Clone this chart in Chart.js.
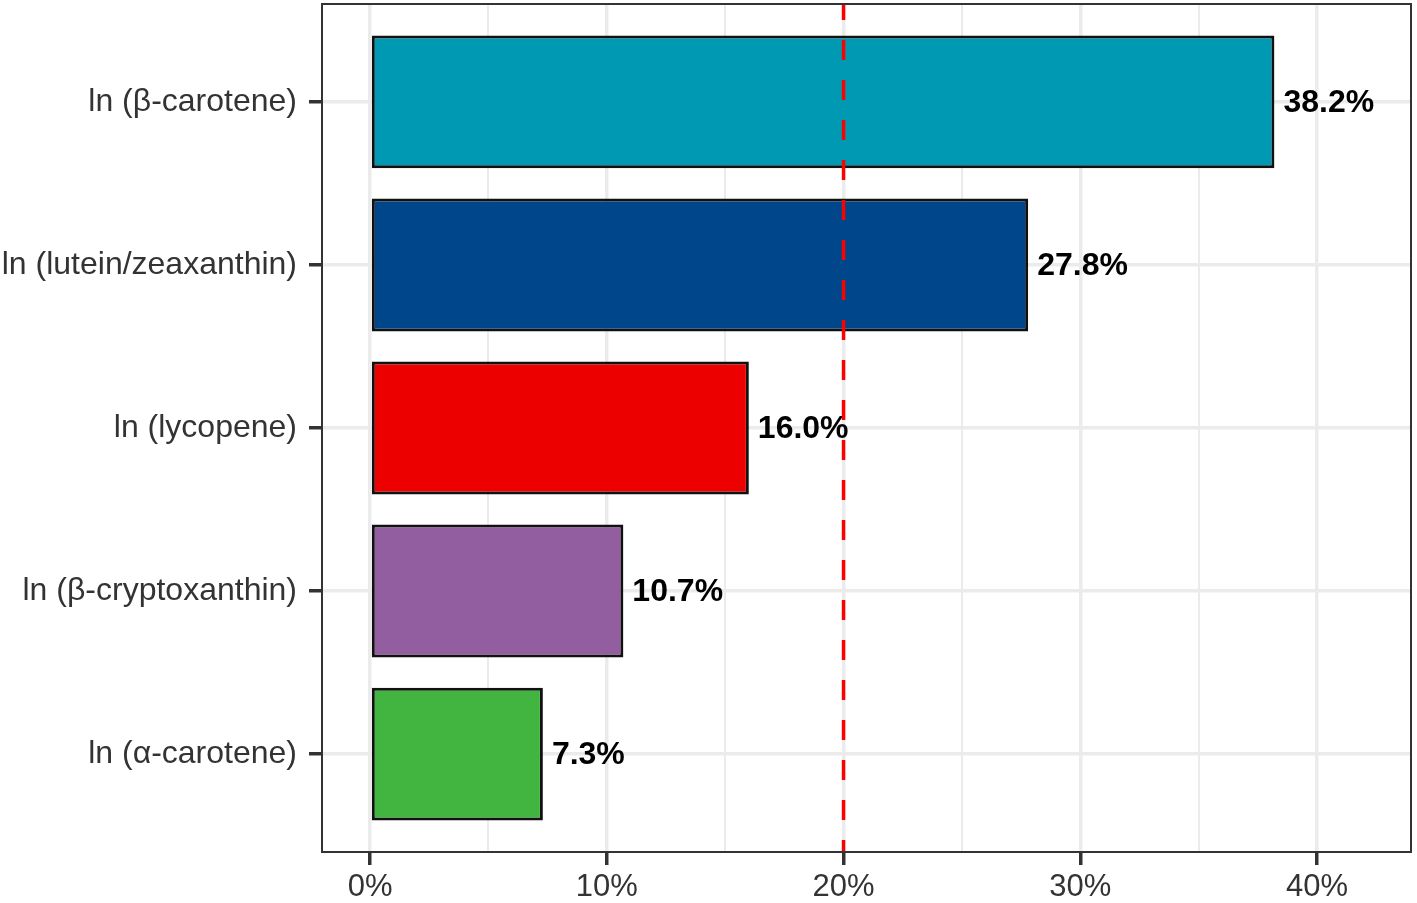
<!DOCTYPE html>
<html>
<head>
<meta charset="utf-8">
<script src="https://cdn.jsdelivr.net/npm/chart.js@4.4.1/dist/chart.umd.min.js"></script>
<style>
  html, body { margin: 0; padding: 0; background: #fff; }
  #wrap { width: 1417px; height: 903px; position: relative; }
</style>
</head>
<body>
<div id="wrap"><canvas id="carotenoidChart"></canvas></div>
<script>
// data
const categories = ['ln (β-carotene)', 'ln (lutein/zeaxanthin)', 'ln (lycopene)', 'ln (β-cryptoxanthin)', 'ln (α-carotene)'];
const shares = [38.2, 27.8, 16.0, 10.7, 7.3];
const barColors = ['#0099B4', '#00468B', '#ED0000', '#925E9F', '#42B540'];
const xTicks = [0, 5, 10, 15, 20, 25, 30, 35, 40];
const refLine = 20;

const FONT = '"Liberation Sans", Arial, sans-serif';

// value text at the end of each bar
const valueLabels = {
    id: 'valueLabels',
    afterDatasetsDraw(chart) {
        const ctx = chart.ctx;
        const meta = chart.getDatasetMeta(0);
        ctx.save();
        ctx.font = 'bold 32px ' + FONT;
        ctx.fillStyle = '#000';
        ctx.textAlign = 'left';
        ctx.textBaseline = 'middle';
        meta.data.forEach((bar, i) => {
            ctx.fillText(shares[i].toFixed(1) + '%', bar.x + 9, bar.y + 1);
        });
        ctx.restore();
    }
};

// red dashed reference line
const refLinePlugin = {
    id: 'refLine',
    afterDatasetsDraw(chart) {
        const ctx = chart.ctx;
        const area = chart.chartArea;
        const x = chart.scales.x.getPixelForValue(refLine);
        ctx.save();
        ctx.strokeStyle = '#FF0000';
        ctx.lineWidth = 3.5;
        ctx.setLineDash([20, 20]);
        ctx.lineDashOffset = 4;
        ctx.beginPath();
        ctx.moveTo(x, area.top);
        ctx.lineTo(x, area.bottom);
        ctx.stroke();
        ctx.restore();
    }
};

// full panel border like theme_bw
const panelBorder = {
    id: 'panelBorder',
    afterDraw(chart) {
        const ctx = chart.ctx;
        const a = chart.chartArea;
        ctx.save();
        ctx.strokeStyle = '#333';
        ctx.lineWidth = 2;
        ctx.strokeRect(a.left, a.top, a.right - a.left, a.bottom - a.top);
        ctx.restore();
    }
};

const ctx = document.getElementById('carotenoidChart').getContext('2d');
new Chart(ctx, {
    type: 'bar',
    data: {
        datasets: [{
            data: shares.map((v, i) => ({ x: v, y: i })),
            backgroundColor: barColors,
            borderColor: '#111',
            borderWidth: 3,
            borderSkipped: false,
            categoryPercentage: 0.815,
            barPercentage: 1
        }]
    },
    options: {
        indexAxis: 'y',
        responsive: true,
        maintainAspectRatio: false,
        animation: false,
        layout: { padding: { top: 4, right: 6, left: 0, bottom: 0 } },
        plugins: {
            legend: { display: false },
            tooltip: { enabled: false }
        },
        scales: {
            x: {
                type: 'linear',
                min: -2.03,
                max: 43.97,
                afterBuildTicks: s => { s.ticks = xTicks.map(v => ({ value: v })); },
                afterFit: s => {
                    s.height = 51;
                    s.paddingLeft = 0;
                    s.paddingRight = 0;
                },
                border: { display: false },
                grid: {
                    color: '#EBEBEB',
                    lineWidth: c => (c.tick && c.tick.value % 10 === 0) ? 3.5 : 2,
                    drawTicks: true,
                    tickLength: 13,
                    tickWidth: 3.5,
                    tickColor: c => (c.tick && c.tick.value % 10 === 0) ? '#333' : 'rgba(0,0,0,0)'
                },
                ticks: {
                    autoSkip: false,
                    maxRotation: 0,
                    padding: 4,
                    color: '#333',
                    font: { family: FONT, size: 31 },
                    callback: v => v % 10 === 0 ? v + '%' : ''
                }
            },
            y: {
                type: 'linear',
                reverse: true,
                offset: false,
                min: -0.6,
                max: 4.6,
                afterBuildTicks: s => { s.ticks = categories.map((c, i) => ({ value: i })); },
                afterFit: s => {
                    s.width = 322;
                    s.paddingTop = 0;
                    s.paddingBottom = 0;
                },
                border: { display: false },
                grid: {
                    offset: false,
                    color: '#EBEBEB',
                    lineWidth: 3.5,
                    drawTicks: true,
                    tickLength: 13,
                    tickWidth: 3.5,
                    tickColor: '#333'
                },
                ticks: {
                    autoSkip: false,
                    padding: 12,
                    color: '#333',
                    font: { family: FONT, size: 32 },
                    callback: v => categories[v]
                }
            }
        }
    },
    plugins: [valueLabels, refLinePlugin, panelBorder]
});
</script>
</body>
</html>
